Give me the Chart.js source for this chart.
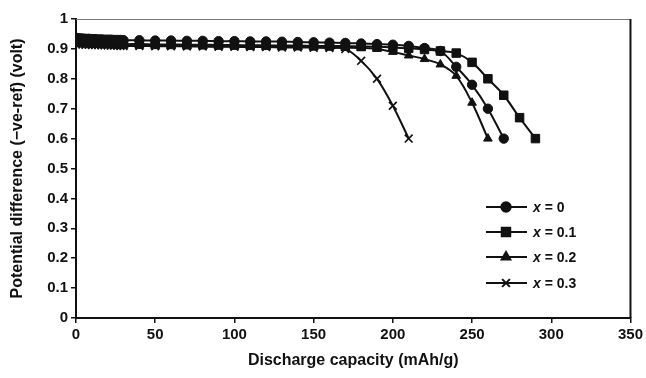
<!DOCTYPE html>
<html>
<head>
<meta charset="utf-8">
<script src="https://cdn.jsdelivr.net/npm/chart.js@4/dist/chart.umd.min.js"></script>
<style>
  html, body { margin: 0; padding: 0; background: #fff; }
  #wrap { width: 646px; height: 378px; }
</style>
</head>
<body>
<div id="wrap"><canvas id="c" width="646" height="378"></canvas></div>
<script>
// discharge capacity (mAh/g) for each composition
var cap_x0 = [0,2,4,6,8,10,12,14,16,18,20,22,24,26,28,30,40,50,60,70,80,90,100,110,120,130,140,150,160,170,180,190,200,210,220,230,240,250,260,270];
var cap_x1 = [0,2,4,6,8,10,12,14,16,18,20,22,24,26,28,30,40,50,60,70,80,90,100,110,120,130,140,150,160,170,180,190,200,210,220,230,240,250,260,270,280,290];
var cap_x2 = [0,2,4,6,8,10,12,14,16,18,20,22,24,26,28,30,40,50,60,70,80,90,100,110,120,130,140,150,160,170,180,190,200,210,220,230,240,250,260];
var cap_x3 = [0,2,4,6,8,10,12,14,16,18,20,22,24,26,28,30,40,50,60,70,80,90,100,110,120,130,140,150,160,170,180,190,200,210];

// potential difference (volt)
var volt_x0 = [0.937,0.936,0.935,0.934,0.934,0.933,0.933,0.932,0.932,0.931,0.931,0.931,0.930,0.930,0.930,0.929,
  0.929,0.928,0.928,0.927,0.927,0.926,0.926,0.925,0.925,0.924,0.923,0.922,0.921,0.920,0.918,0.916,0.914,0.910,0.903,0.893,0.840,0.780,0.700,0.600];
var volt_x1 = [0.926,0.925,0.924,0.923,0.922,0.921,0.920,0.920,0.919,0.919,0.918,0.918,0.917,0.917,0.917,0.916,
  0.916,0.915,0.915,0.914,0.914,0.913,0.913,0.912,0.912,0.911,0.911,0.910,0.910,0.909,0.908,0.907,0.905,0.902,0.898,0.893,0.886,0.855,0.800,0.745,0.670,0.600];
var volt_x2 = [0.918,0.917,0.917,0.916,0.916,0.915,0.915,0.914,0.914,0.914,0.913,0.913,0.913,0.912,0.912,0.912,
  0.911,0.911,0.910,0.910,0.909,0.909,0.908,0.908,0.907,0.907,0.906,0.906,0.905,0.904,0.903,0.900,0.890,0.878,0.866,0.848,0.810,0.720,0.600];
var volt_x3 = [0.916,0.915,0.915,0.914,0.914,0.913,0.913,0.913,0.912,0.912,0.912,0.911,0.911,0.911,0.910,0.910,
  0.910,0.909,0.909,0.908,0.908,0.907,0.907,0.906,0.906,0.905,0.905,0.904,0.903,0.900,0.860,0.800,0.710,0.600];

var seriesNames = ['0', '0.1', '0.2', '0.3'];
var xTicks = [0, 50, 100, 150, 200, 250, 300, 350];
var yTicks = [0, 0.1, 0.2, 0.3, 0.4, 0.5, 0.6, 0.7, 0.8, 0.9, 1];

var FONT = "'Liberation Sans', Arial, sans-serif";

function pairs(xs, ys) {
  return xs.map(function(x, i) { return {x: x, y: ys[i]}; });
}

var styles = [
  {pointStyle: 'circle', radius: 4.7},
  {pointStyle: 'rect', radius: 6},
  {pointStyle: 'triangle', radius: 5},
  {pointStyle: 'crossRot', radius: 5.5}
];

function makeSet(i, xs, ys) {
  var s = styles[i];
  return {
    label: 'x = ' + seriesNames[i],
    data: pairs(xs, ys),
    borderColor: '#111',
    backgroundColor: '#111',
    borderWidth: 2,
    pointStyle: s.pointStyle,
    pointRadius: s.radius,
    pointBorderWidth: s.pointStyle === 'crossRot' ? 1.7 : 1,
    pointBorderColor: '#111',
    pointBackgroundColor: '#111',
    tension: 0.35,
    fill: false
  };
}

// legend drawn inside the plot, line + marker + label
var innerLegend = {
  id: 'innerLegend',
  afterDraw: function(chart) {
    var ctx = chart.ctx;
    var rows = [207, 232, 257, 283];
    ctx.save();
    chart.data.datasets.forEach(function(ds, i) {
      var y = rows[i];
      ctx.strokeStyle = '#111';
      ctx.lineWidth = 2;
      ctx.beginPath();
      ctx.moveTo(486, y);
      ctx.lineTo(527, y);
      ctx.stroke();
      ctx.fillStyle = '#111';
      Chart.helpers.drawPoint(ctx, {
        pointStyle: ds.pointStyle,
        radius: ds.pointRadius,
        borderWidth: ds.pointBorderWidth,
        rotation: 0
      }, 506, y);
      ctx.textBaseline = 'middle';
      ctx.textAlign = 'left';
      ctx.font = 'italic bold 14px ' + FONT;
      ctx.fillText('x', 533, y + 1);
      var w = ctx.measureText('x').width;
      ctx.font = 'bold 14px ' + FONT;
      ctx.fillText(' = ' + seriesNames[i], 533 + w, y + 1);
    });
    ctx.restore();
  }
};

// thin frame on top and right of the plot area
var frame = {
  id: 'frame',
  beforeDatasetsDraw: function(chart) {
    var a = chart.chartArea, ctx = chart.ctx;
    ctx.save();
    ctx.strokeStyle = '#777';
    ctx.lineWidth = 1;
    ctx.beginPath();
    ctx.moveTo(a.left, a.top + 0.5);
    ctx.lineTo(a.right, a.top + 0.5);
    ctx.stroke();
    ctx.strokeStyle = '#111';
    ctx.lineWidth = 2;
    ctx.beginPath();
    ctx.moveTo(a.right, a.top);
    ctx.lineTo(a.right, a.bottom);
    ctx.stroke();
    ctx.restore();
  }
};

new Chart(document.getElementById('c'), {
  type: 'line',
  data: {
    datasets: [
      makeSet(0, cap_x0, volt_x0),
      makeSet(1, cap_x1, volt_x1),
      makeSet(2, cap_x2, volt_x2),
      makeSet(3, cap_x3, volt_x3)
    ]
  },
  options: {
    responsive: false,
    animation: false,
    layout: {padding: {top: 19, right: 10, left: 0, bottom: 0}},
    plugins: {
      legend: {display: false},
      tooltip: {enabled: false}
    },
    scales: {
      x: {
        type: 'linear',
        min: 0, max: 350,
        afterBuildTicks: function(s) { s.ticks = xTicks.map(function(v) { return {value: v}; }); },
        afterFit: function(s) { s.height = 60; },
        border: {color: '#111', width: 2},
        grid: {drawOnChartArea: false, color: '#111', tickLength: 5, lineWidth: 1.5},
        ticks: {color: '#111', padding: 3, maxRotation: 0, font: {family: FONT, size: 15, weight: 'bold'}},
        title: {display: true, text: 'Discharge capacity (mAh/g)', color: '#111',
          font: {family: FONT, size: 16, weight: 'bold'}, padding: {top: 0, bottom: 8}}
      },
      y: {
        min: 0, max: 1,
        afterBuildTicks: function(s) { s.ticks = yTicks.map(function(v) { return {value: v}; }); },
        afterFit: function(s) { s.width = 76; },
        border: {color: '#111', width: 2},
        grid: {drawOnChartArea: false, color: '#111', tickLength: 5, lineWidth: 1.5},
        ticks: {color: '#111', padding: 3, font: {family: FONT, size: 15, weight: 'bold'},
          callback: function(v) { return String(Math.round(v * 10) / 10); }},
        title: {display: true, text: 'Potential difference (\u2212ve-ref) (volt)', color: '#111',
          font: {family: FONT, size: 16, weight: 'bold'}, padding: {top: 8, bottom: 0}}
      }
    }
  },
  plugins: [frame, innerLegend]
});
</script>
</body>
</html>
